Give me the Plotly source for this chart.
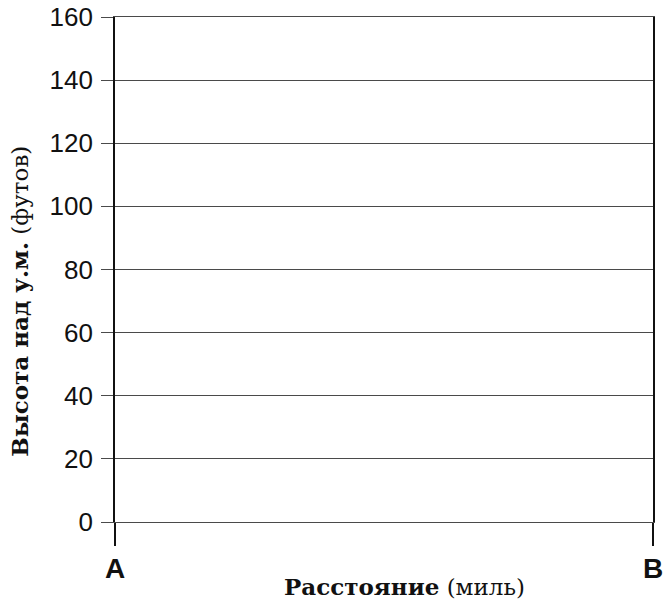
import plotly.graph_objects as go

# Data
x_positions = [0, 1]
x_labels = ["A", "B"]
y_ticks = [0, 20, 40, 60, 80, 100, 120, 140, 160]
y_range = [0, 160]

fig = go.Figure()
# invisible trace to anchor axes
fig.add_trace(go.Scatter(x=x_positions, y=[None, None], mode="markers", showlegend=False, hoverinfo="skip"))

grid_col = "#4a4a4a"
fig.update_layout(
    width=664, height=609,
    margin=dict(l=115, r=11, t=17, b=87),
    paper_bgcolor="white", plot_bgcolor="white",
    showlegend=False,
)
fig.update_xaxes(
    range=[x_positions[0], x_positions[-1]],
    tickvals=x_positions, ticktext=x_labels,
    ticks="outside", ticklen=23, tickwidth=1.6, tickcolor="#111",
    tickfont=dict(family="Liberation Sans, Arial, sans-serif", size=28, color="#111", weight="bold"),
    ticklabelstandoff=-2,
    showgrid=False, zeroline=False, automargin=False,
    showline=True, mirror=True, linecolor=grid_col, linewidth=1.4,
)
fig.update_yaxes(
    range=y_range, tickvals=y_ticks,
    ticks="outside", ticklen=12, tickwidth=1.4, tickcolor=grid_col,
    tickfont=dict(family="Liberation Sans, Arial, sans-serif", size=26, color="#111"),
    ticklabelstandoff=3,
    showgrid=True, gridcolor=grid_col, gridwidth=1.4,
    zeroline=False, automargin=False,
    showline=True, mirror=True, linecolor="#111", linewidth=1.6,
)
fig.add_annotation(
    xref="paper", yref="paper", x=0.539, y=-0.127, xanchor="center", yanchor="middle",
    text="<b>Расстояние</b> (миль)", showarrow=False,
    font=dict(family="DejaVu Serif, serif", size=23, color="#111"),
)
fig.add_annotation(
    xref="paper", yref="paper", x=-0.1766, y=0.438, xanchor="center", yanchor="middle",
    text="<b>Высота над у.м.</b> (футов)", showarrow=False, textangle=-90,
    font=dict(family="DejaVu Serif, serif", size=23, color="#111"),
)
fig.write_html(
    "out.html",
    config={"displayModeBar": False},
    post_script="document.body.style.margin='0';document.body.style.overflow='hidden';",
)
